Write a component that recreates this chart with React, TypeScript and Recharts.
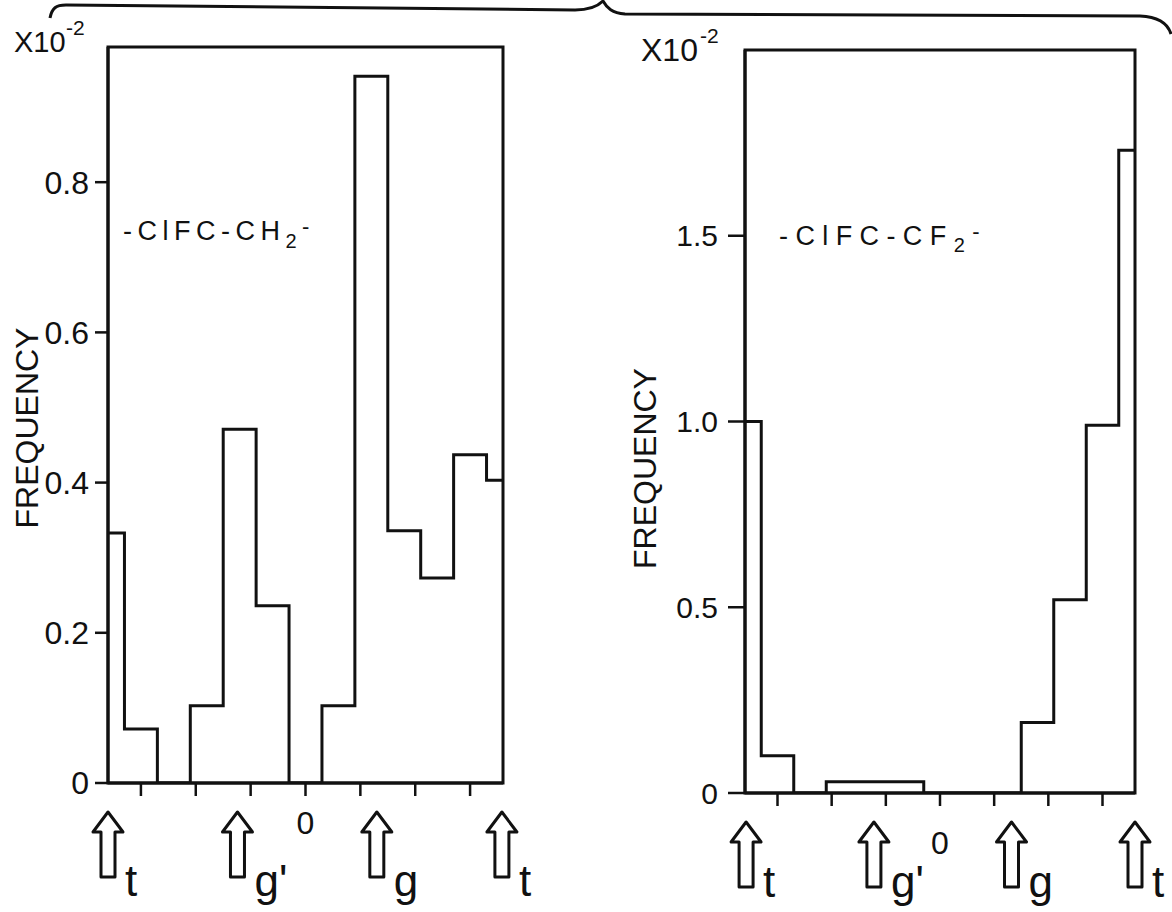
import React from 'react'
import {
  LineChart,
  Line,
  XAxis,
  YAxis,
  ReferenceArea,
} from 'recharts'

const FONT = "'Liberation Sans', Arial, sans-serif"
const INK = '#111'

// histogram step edges (degrees) shared by both panels
const binEdges = [-180, -165, -135, -105, -75, -45, -15, 15, 45, 75, 105, 135, 165, 180]

// frequencies (x10^-2) per bin
const ch2Freq = [0.333, 0.072, 0, 0.103, 0.471, 0.236, 0, 0.103, 0.941, 0.336, 0.273, 0.437, 0.403]
const cf2Freq = [1.0, 0.1, 0, 0.03, 0.03, 0.03, 0, 0, 0, 0.19, 0.52, 0.99, 1.73]

const angleTicks = [-150, -100, -50, 0, 50, 100, 150]

const ch2YTicks = [0, 0.2, 0.4, 0.6, 0.8]
const ch2YLabels = ['0', '0.2', '0.4', '0.6', '0.8']
const cf2YTicks = [0, 0.5, 1.0, 1.5]
const cf2YLabels = ['0', '0.5', '1.0', '1.5']

const conformers = ['t', "g'", 'g', 't']
const ch2ArrowAt = [-180, -62, 65, 179]
const cf2ArrowAt = [-179, -61, 66, 180]

const toSteps = (vals: number[]) =>
  binEdges.map((x, i) => ({ x, v: vals[Math.min(i, vals.length - 1)] }))

function ArrowTick(props: any) {
  const { x, y, payload, positions, labels, letterDy } = props
  const i = positions.indexOf(payload.value)
  const tipY = y + 9
  return (
    <g>
      <path
        d={`M${x},${tipY} l15,20 h-8 v45 h-14 v-45 h-8 z`}
        fill="#fff"
        stroke={INK}
        strokeWidth={3}
        strokeLinejoin="round"
      />
      <text x={x + 17} y={y + letterDy} fontSize={44} fontFamily={FONT} fill={INK}>
        {labels[i] ?? ''}
      </text>
    </g>
  )
}

const yTitle = (dx: number, dy: number) => (props: any) => {
  const vb = props.viewBox || { x: 0, y: 0, width: 0, height: 0 }
  const cx = vb.x + dx
  const cy = vb.y + vb.height / 2 + dy
  return (
    <text
      x={cx}
      y={cy}
      transform={`rotate(-90 ${cx} ${cy})`}
      textAnchor="middle"
      dominantBaseline="central"
      fontSize={32}
      fontFamily={FONT}
      fill={INK}
    >
      FREQUENCY
    </text>
  )
}

type PanelProps = {
  vals: number[]
  yMax: number
  yTicks: number[]
  yLabels: string[]
  arrowAt: number[]
  width: number
  margin: { top: number; right: number; left: number; bottom: number }
  yWidth: number
  yTickSize: number
  yTickMargin: number
  zeroMargin: number
  arrowHeight: number
  letterDy: number
  titleDx: number
  titleDy: number
  fontSize: number
}

function Panel(p: PanelProps) {
  const data = toSteps(p.vals)
  return (
    <LineChart width={p.width} height={912} data={data} margin={p.margin}>
      <XAxis
        dataKey="x"
        type="number"
        domain={[-180, 180]}
        allowDataOverflow
        ticks={angleTicks}
        tickFormatter={(v: number) => (v === 0 ? '0' : '')}
        tickSize={13}
        tickMargin={p.zeroMargin}
        height={20}
        axisLine={{ stroke: INK, strokeWidth: 3 }}
        tickLine={{ stroke: INK, strokeWidth: 2.5 }}
        tick={{ fill: INK, fontSize: 32, fontFamily: FONT }}
        interval={0}
      />
      <XAxis
        xAxisId="arrows"
        dataKey="x"
        type="number"
        domain={[-180, 180]}
        allowDataOverflow
        ticks={p.arrowAt}
        interval={0}
        height={p.arrowHeight}
        axisLine={false}
        tickLine={false}
        tickSize={0}
        tickMargin={0}
        tick={<ArrowTick positions={p.arrowAt} labels={conformers} letterDy={p.letterDy} />}
      />
      <YAxis
        type="number"
        domain={[0, p.yMax]}
        allowDataOverflow
        ticks={p.yTicks}
        interval={0}
        width={p.yWidth}
        tickSize={p.yTickSize}
        tickMargin={p.yTickMargin}
        tickFormatter={(v: number) => p.yLabels[p.yTicks.indexOf(v)] ?? ''}
        axisLine={{ stroke: INK, strokeWidth: 3 }}
        tickLine={{ stroke: INK, strokeWidth: 2.5 }}
        tick={{ fill: INK, fontSize: p.fontSize, fontFamily: FONT }}
        label={{ value: 'FREQUENCY', content: yTitle(p.titleDx, p.titleDy) }}
      />
      <ReferenceArea
        x1={-180}
        x2={180}
        y1={0}
        y2={p.yMax}
        fill="none"
        fillOpacity={0}
        stroke={INK}
        strokeWidth={3}
      />
      <Line
        dataKey="v"
        type="stepAfter"
        stroke={INK}
        strokeWidth={3}
        dot={false}
        activeDot={false}
        isAnimationActive={false}
      />
    </LineChart>
  )
}

export default function App() {
  const txt = { fontFamily: FONT, fill: INK }
  return (
    <div style={{ position: 'absolute', left: 0, top: 0, width: 1172, height: 912, background: '#fff' }}>
      <div style={{ position: 'absolute', left: 0, top: 0 }}>
        <Panel
          vals={ch2Freq}
          yMax={0.98}
          yTicks={ch2YTicks}
          yLabels={ch2YLabels}
          arrowAt={ch2ArrowAt}
          width={560}
          margin={{ top: 47, right: 57, left: 8, bottom: 9 }}
          yWidth={100}
          yTickSize={13}
          yTickMargin={6}
          zeroMargin={15}
          arrowHeight={100}
          letterDy={93}
          titleDx={19}
          titleDy={13}
          fontSize={32}
        />
      </div>
      <div style={{ position: 'absolute', left: 580, top: 0 }}>
        <Panel
          vals={cf2Freq}
          yMax={2.0}
          yTicks={cf2YTicks}
          yLabels={cf2YLabels}
          arrowAt={cf2ArrowAt}
          width={592}
          margin={{ top: 50, right: 37, left: 8, bottom: 9 }}
          yWidth={157}
          yTickSize={17}
          yTickMargin={10}
          zeroMargin={25}
          arrowHeight={90}
          letterDy={84}
          titleDx={57}
          titleDy={47}
          fontSize={30}
        />
      </div>
      <svg
        width={1172}
        height={912}
        style={{ position: 'absolute', left: 0, top: 0, pointerEvents: 'none' }}
      >
        <path
          d="M50,18 C52,8 56,5 66,5 L575,10 C590,10 598,6 603,1 C607,8 612,13 625,14 L1140,16 C1160,17 1168,24 1171,34"
          fill="none"
          stroke={INK}
          strokeWidth={3}
        />
        <text x={14} y={52} fontSize={29} {...txt}>X10</text>
        <text x={66} y={35} fontSize={21} {...txt}>-2</text>
        <text x={641} y={61} fontSize={32} {...txt}>X10</text>
        <text x={700} y={43} fontSize={21} {...txt}>-2</text>
        <text x={123} y={240} fontSize={27} letterSpacing={5.5} {...txt}>
          -ClFC-CH
          <tspan fontSize={20} dy={8}>2</tspan>
          <tspan fontSize={22} dy={-14}>-</tspan>
        </text>
        <text x={779} y={245} fontSize={27} letterSpacing={7.4} {...txt}>
          -ClFC-CF
          <tspan fontSize={20} dy={7}>2</tspan>
          <tspan fontSize={22} dy={-13}>-</tspan>
        </text>
      </svg>
    </div>
  )
}
